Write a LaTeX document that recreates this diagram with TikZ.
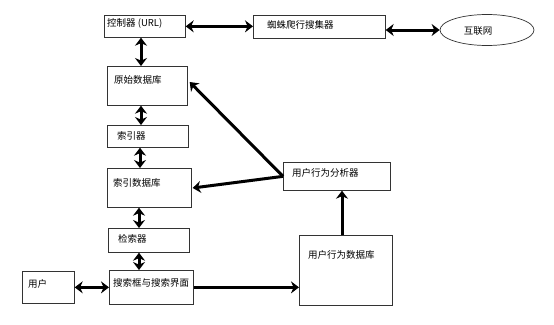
\documentclass[tikz,border=0pt]{standalone}
\usepackage{fontspec}
\setmainfont{Noto Sans CJK SC}
\usetikzlibrary{arrows.meta,calc,shapes.geometric}
\begin{document}
\begin{tikzpicture}[x=1pt,y=-1pt,
  box/.style={draw=black!80,line width=0.7pt,rectangle,inner sep=0pt,anchor=north west},
  txt/.style={anchor=west,inner sep=0pt,font=\fontsize{9.5}{10}\selectfont},
  conn/.style={draw=black,line width=3pt},
  dbl/.style={conn,{Stealth[length=8pt,width=12pt]}-{Stealth[length=8pt,width=12pt]}},
  one/.style={conn,-{Stealth[length=8pt,width=12pt]}}]
\useasboundingbox[fill=white] (0,0) rectangle (554,324);
% boxes
\node[box,minimum width=81pt,minimum height=22pt] (ctl) at (104,15) {};
\node[box,minimum width=132pt,minimum height=23pt] (spi) at (253,15) {};
\node[draw=black!80,line width=0.7pt,ellipse,minimum width=94pt,minimum height=31pt,inner sep=0pt] (net) at (487,30) {};
\node[box,minimum width=80pt,minimum height=39pt] (raw) at (107,66) {};
\node[box,minimum width=81pt,minimum height=22pt] (ixr) at (107,125) {};
\node[box,minimum width=84pt,minimum height=39pt] (idb) at (107,168) {};
\node[box,minimum width=81pt,minimum height=24pt] (ret) at (108,228) {};
\node[box,minimum width=84pt,minimum height=34pt] (srch) at (109,270) {};
\node[box,minimum width=52pt,minimum height=32pt] (usr) at (22,271) {};
\node[box,minimum width=107pt,minimum height=28pt] (ana) at (283,162) {};
\node[box,minimum width=93pt,minimum height=70pt] (bdb) at (299,235) {};
% texts
\node[txt] (ctl-t) at (107,23) {控制器 (URL)};
\node[txt] (spi-t) at (267,25) {蜘蛛爬行搜集器};
\node[txt,anchor=center] (net-t) at (478,31) {互联网};
\node[txt] (raw-t) at (114,80) {原始数据库};
\node[txt] (ixr-t) at (117,136) {索引器};
\node[txt] (idb-t) at (113,183) {索引数据库};
\node[txt] (ret-t) at (118,239) {检索器};
\node[txt] (srch-t) at (113,283) {搜索框与搜索界面};
\node[txt] (usr-t) at (28,284) {用户};
\node[txt] (ana-t) at (292,173) {用户行为分析器};
\node[txt] (bdb-t) at (308,255) {用户行为数据库};
% connectors
\draw[dbl] (ctl.east) -- (spi.west |- ctl.east);
\draw[dbl] (spi.east |- net.west) -- (net.west);
\draw[dbl] (ctl.south -| 141,0) -- (raw.north -| 141,0);
\draw[dbl] (raw.south -| 141,0) -- (ixr.north -| 141,0);
\draw[dbl] (ixr.south -| 140,0) -- (idb.north -| 140,0);
\draw[dbl] (idb.south -| 139,0) -- (ret.north -| 139,0);
\draw[dbl] (ret.south -| 139,0) -- (srch.north -| 139,0);
\draw[dbl] (usr.east) -- (srch.west |- usr.east);
\draw[one] (srch.east) -- (bdb.west |- srch.east);
\draw[one] (bdb.north -| 342,0) -- (ana.south -| 342,0);
\draw[one] (ana.west) -- ($(raw.north east)+(2,16)$);
\draw[one] (ana.west) -- ($(idb.north east)+(1,20)$);
\end{tikzpicture}
\end{document}
